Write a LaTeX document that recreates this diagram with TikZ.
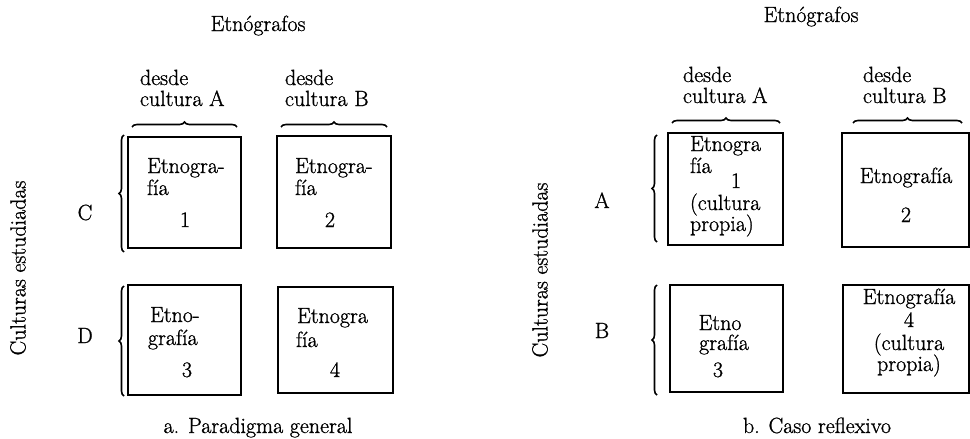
\documentclass[tikz,border=0pt]{standalone}
\usepackage{fontspec}
\setmainfont{Latin Modern Roman}[FakeBold=1]
\newfontfamily\heavyrm{Latin Modern Roman}[FakeBold=1]
\usetikzlibrary{decorations.pathreplacing}
\begin{document}
\begin{tikzpicture}[x=1pt,y=-1pt,
  txt/.style={font=\heavyrm\fontsize{22}{21}\selectfont, inner sep=0pt, outer sep=0pt},
  bl/.style={txt, anchor=base west},
  bc/.style={txt, anchor=base},
  cell/.style={draw, line width=1.5pt, inner sep=0pt},
  brc/.style={decorate, decoration={brace, amplitude=5pt}, line width=1.6pt}]
\path[use as bounding box] (0,0) rectangle (970,439);
% ---------- panel a ----------
\node[bc] (etA) at (258,31) {Etnógrafos};
\node[bl] (dA1) at (140,85) {desde};
\node[bl] (dA2) at (140,106) {cultura A};
\node[bl] (dB1) at (285,85) {desde};
\node[bl] (dB2) at (285,106) {cultura B};
\draw[brc] (132,127) -- (237,127);
\draw[brc] (281,127) -- (387,127);
\node[cell, minimum width=113pt, minimum height=111pt] (a1) at (184.5,192.5) {};
\node[cell, minimum width=114pt, minimum height=112pt] (a2) at (334,192) {};
\node[cell, minimum width=113pt, minimum height=110pt] (a3) at (184.5,340) {};
\node[cell, minimum width=115pt, minimum height=106pt] (a4) at (335.5,340) {};
\node[bl] (a1t1) at (147,173) {Etnogra-};
\node[bl] (a1t2) at (147,195) {fía};
\node[bc] (a1t3) at (185,227) {1};
\node[bl] (a2t1) at (295,173) {Etnogra-};
\node[bl] (a2t2) at (295,195) {fía};
\node[bc] (a2t3) at (330,227) {2};
\node[bl] (a3t1) at (150,322) {Etno-};
\node[bl] (a3t2) at (148,345) {grafía};
\node[bc] (a3t3) at (187,377) {3};
\node[bl] (a4t1) at (297,323) {Etnogra};
\node[bl] (a4t2) at (296,347) {fía};
\node[bc] (a4t3) at (335,377) {4};
\draw[brc] (124,252) -- (124,135);
\draw[brc] (124,396) -- (124,286);
\node[bc] (lC) at (85,220) {C};
\node[bc] (lD) at (85,343) {D};
\node[txt, rotate=90] (ceA) at (18,268) {Culturas estudiadas};
\node[bc] (capA) at (258,433) {a. Paradigma general};
% ---------- panel b ----------
\node[bc] (etB) at (811,22) {Etnógrafos};
\node[bl] (eA1) at (683,82) {desde};
\node[bl] (eA2) at (683,103) {cultura A};
\node[bl] (eB1) at (863,82) {desde};
\node[bl] (eB2) at (863,103) {cultura B};
\draw[brc] (672,123) -- (780,123);
\draw[brc] (853,123) -- (962,123);
\node[cell, minimum width=115pt, minimum height=112pt] (r1) at (725.5,189) {};
\node[cell, minimum width=127pt, minimum height=114pt] (r2) at (905.5,190) {};
\node[cell, minimum width=113pt, minimum height=107pt] (r3) at (726.5,338.5) {};
\node[cell, minimum width=126pt, minimum height=108pt] (r4) at (906,339) {};
\node[bl] (r1t1) at (690,151) {Etnogra};
\node[bl] (r1t2) at (690,173) {fía};
\node[bc] (r1t3) at (736,188) {1};
\node[bl] (r1t4) at (690,210) {(cultura};
\node[bl] (r1t5) at (690,231) {propia)};
\node[bc] (r2t1) at (906,183) {Etnografía};
\node[bc] (r2t2) at (906,222) {2};
\node[bc] (r3t1) at (720,330) {Etno};
\node[bc] (r3t2) at (724,350) {grafía};
\node[bc] (r3t3) at (718,377) {3};
\node[bc] (r4t1) at (909,304) {Etnografía};
\node[bc] (r4t2) at (909,327) {4};
\node[bc] (r4t3) at (909,350) {(cultura};
\node[bc] (r4t4) at (909,371) {propia)};
\draw[brc] (657,242) -- (657,135);
\draw[brc] (657,395) -- (657,285);
\node[bc] (lA) at (602,208) {A};
\node[bc] (lB) at (602,338) {B};
\node[txt, rotate=90] (ceB) at (540,270) {Culturas estudiadas};
\node[bc] (capB) at (817,433) {b. Caso reflexivo};
\end{tikzpicture}
\end{document}
